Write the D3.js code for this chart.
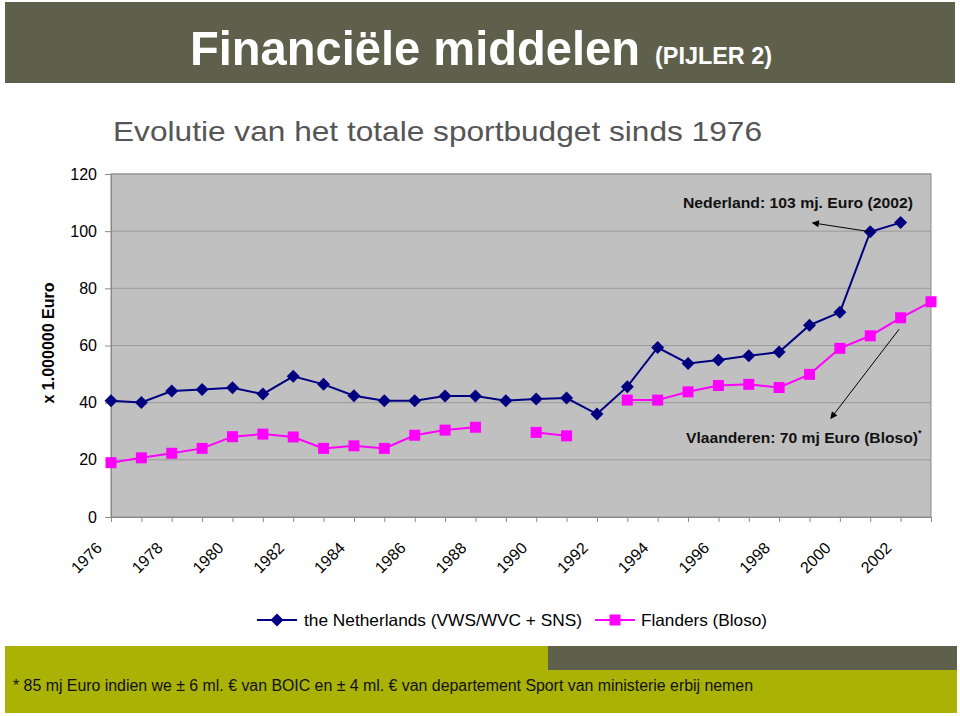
<!DOCTYPE html>
<html><head><meta charset="utf-8">
<script src="https://cdn.jsdelivr.net/npm/d3@7"></script>
<style>body{margin:0;background:#fff;}svg{display:block;font-family:"Liberation Sans",Arial,sans-serif;}</style>
</head><body>
<svg id="c" width="960" height="716"></svg>
<script>
const years = d3.range(1976, 2004);
const netherlands = [40.7,40.1,44.1,44.6,45.2,43.0,49.2,46.4,42.4,40.7,40.7,42.3,42.3,40.7,41.3,41.6,36.0,45.6,59.3,53.7,54.9,56.4,57.7,67.1,71.6,99.8,103.0,null];
const flanders = [19.0,20.7,22.3,24.0,28.1,29.0,28.0,24.0,24.9,24.0,28.6,30.4,31.4,null,29.6,28.4,null,40.9,40.9,43.8,46.0,46.4,45.3,49.9,59.0,63.4,69.7,75.3];
const yTicks = [0,20,40,60,80,100,120];
const xLabels = d3.range(1976, 2004, 2);
const seriesNames = ["the Netherlands (VWS/WVC + SNS)", "Flanders (Bloso)"];

const svg = d3.select("#c");
const olive = "#5f604b", yellow = "#aab205";

// title bar
svg.append("rect").attr("x",5).attr("y",2).attr("width",950).attr("height",81).attr("fill",olive);
svg.append("text").attr("x",190).attr("y",65).attr("fill","#fff").attr("font-weight","bold").attr("font-size",49)
  .attr("textLength",450).attr("lengthAdjust","spacingAndGlyphs").text("Financiële middelen");
svg.append("text").attr("x",655).attr("y",64).attr("fill","#fff").attr("font-weight","bold").attr("font-size",23)
  .attr("textLength",117).attr("lengthAdjust","spacingAndGlyphs").text("(PIJLER 2)");

svg.append("text").attr("x",113).attr("y",141).attr("fill","#555").attr("font-size",28)
  .attr("textLength",649).attr("lengthAdjust","spacingAndGlyphs").text("Evolutie van het totale sportbudget sinds 1976");

const x = d3.scaleLinear().domain([1976,2003]).range([111,931]);
const y = d3.scaleLinear().domain([0,120]).range([517,174]);

// plot area
svg.append("rect").attr("x",x(1976)).attr("y",y(120)).attr("width",x(2003)-x(1976)).attr("height",y(0)-y(120))
  .attr("fill","#c0c0c0").attr("stroke","#8a8a8a");
svg.append("g").selectAll("line").data(yTicks.filter(d=>d>0)).join("line")
  .attr("x1",x(1976)).attr("x2",x(2003)).attr("y1",d=>y(d)).attr("y2",d=>y(d)).attr("stroke","#9a9a9a").attr("stroke-width",1);

// y axis
const ya = svg.append("g").attr("transform",`translate(${x(1976)},0)`)
  .call(d3.axisLeft(y).tickValues(yTicks).tickSize(6).tickPadding(8));
ya.select(".domain").attr("stroke","#8a8a8a");
ya.selectAll(".tick line").attr("stroke","#8a8a8a");
ya.selectAll("text").attr("font-size",16).attr("font-family","Liberation Sans, Arial, sans-serif").attr("fill","#000");

// x axis
const xa = svg.append("g").attr("transform",`translate(0,${y(0)})`)
  .call(d3.axisBottom(x).tickValues(years).tickSize(5).tickFormat(""));
xa.select(".domain").attr("stroke","#8a8a8a");
xa.selectAll(".tick line").attr("stroke","#8a8a8a");
svg.append("g").selectAll("text").data(xLabels).join("text")
  .attr("transform",d=>`translate(${x(d)-8},549) rotate(-45)`).attr("text-anchor","end")
  .attr("font-size",16).text(d=>d);

svg.append("text").attr("transform","translate(54,343) rotate(-90)").attr("text-anchor","middle")
  .attr("font-size",16).attr("font-weight","bold").text("x 1.000000 Euro");

// series
const navy = "#000080", mag = "#ff00ff";
const line = d3.line().defined(d=>d[1]!=null).x(d=>x(d[0])).y(d=>y(d[1]));
const nl = years.map((yr,i)=>[yr,netherlands[i]]);
const fl = years.map((yr,i)=>[yr,flanders[i]]);
svg.append("path").attr("d",line(nl)).attr("fill","none").attr("stroke",navy).attr("stroke-width",2);
svg.append("path").attr("d",line(fl)).attr("fill","none").attr("stroke",mag).attr("stroke-width",2);
const diamond = s=>`M0,${-s}L${s},0L0,${s}L${-s},0Z`;
svg.append("g").selectAll("path").data(nl.filter(d=>d[1]!=null)).join("path")
  .attr("transform",d=>`translate(${x(d[0])},${y(d[1])})`).attr("d",diamond(6.5)).attr("fill",navy);
svg.append("g").selectAll("rect").data(fl.filter(d=>d[1]!=null)).join("rect")
  .attr("x",d=>x(d[0])-5.5).attr("y",d=>y(d[1])-5.5).attr("width",11).attr("height",11).attr("fill",mag);

// annotations
const defs = svg.append("defs");
defs.append("marker").attr("id","ah").attr("viewBox","0 0 10 10").attr("refX",9).attr("refY",5)
  .attr("markerWidth",9).attr("markerHeight",7).attr("orient","auto").attr("markerUnits","userSpaceOnUse")
  .append("path").attr("d","M0,0L10,5L0,10Z").attr("fill","#000");
svg.append("line").attr("x1",x(2001)).attr("y1",y(99.8)).attr("x2",x(1999.1)).attr("y2",y(102.9))
  .attr("stroke","#000").attr("stroke-width",1).attr("marker-end","url(#ah)");
svg.append("line").attr("x1",x(2001.95)).attr("y1",y(65.7)).attr("x2",x(1999.7)).attr("y2",y(34.5))
  .attr("stroke","#000").attr("stroke-width",1).attr("marker-end","url(#ah)");
svg.append("text").attr("x",913).attr("y",208).attr("text-anchor","end").attr("font-size",15.5).attr("font-weight","bold")
  .attr("fill","#111").attr("textLength",230).attr("lengthAdjust","spacingAndGlyphs")
  .text("Nederland: 103 mj. Euro (2002)");
const vt = svg.append("text").attr("x",686).attr("y",443).attr("font-size",15.5).attr("font-weight","bold").attr("fill","#111");
vt.append("tspan").attr("textLength",232).attr("lengthAdjust","spacingAndGlyphs").text("Vlaanderen: 70 mj Euro (Bloso)");
vt.append("tspan").attr("font-size",9).attr("dy",-7).text("*");

// legend
const lg = svg.append("g");
lg.append("line").attr("x1",257).attr("x2",297).attr("y1",620).attr("y2",620).attr("stroke",navy).attr("stroke-width",2);
lg.append("path").attr("transform","translate(277,620)").attr("d",diamond(6.5)).attr("fill",navy);
lg.append("text").attr("x",304).attr("y",626).attr("font-size",16.5)
  .attr("textLength",278).attr("lengthAdjust","spacingAndGlyphs").text(seriesNames[0]);
lg.append("line").attr("x1",595).attr("x2",635).attr("y1",620).attr("y2",620).attr("stroke",mag).attr("stroke-width",2);
lg.append("rect").attr("x",609.5).attr("y",614.5).attr("width",11).attr("height",11).attr("fill",mag);
lg.append("text").attr("x",641).attr("y",626).attr("font-size",16.5)
  .attr("textLength",126).attr("lengthAdjust","spacingAndGlyphs").text(seriesNames[1]);

// footer
svg.append("rect").attr("x",5).attr("y",646).attr("width",952).attr("height",67).attr("fill",yellow);
svg.append("rect").attr("x",548).attr("y",646).attr("width",409).attr("height",24).attr("fill",olive);
svg.append("text").attr("x",13).attr("y",691).attr("font-size",16).attr("fill","#111")
  .attr("textLength",740).attr("lengthAdjust","spacingAndGlyphs")
  .text("* 85 mj Euro indien we ± 6 ml. € van BOIC en ± 4 ml. € van departement Sport van ministerie erbij nemen");
</script>
</body></html>
